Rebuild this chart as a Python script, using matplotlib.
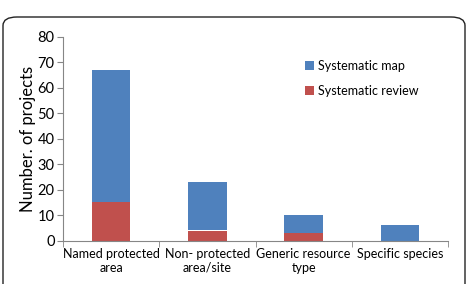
import numpy as np
import matplotlib.pyplot as plt
from matplotlib.patches import FancyBboxPatch

categories = ['Named protected\narea', 'Non- protected\narea/site', 'Generic resource\ntype', 'Specific species']
review = [15, 4, 3, 0]
sys_map = [52, 19, 7, 6]

plt.rcParams['font.family'] = ['Lato', 'DejaVu Sans']

fig = plt.figure(figsize=(4.67, 2.84), dpi=100)
W, H = 467, 284
ax = fig.add_axes([63 / W, 1 - 240.7 / H, (448 - 63) / W, (240.7 - 36.7) / H])

# rounded frame around the chart
frame = FancyBboxPatch((3 / W, -0.2), (462 / W), 1 - 17 / H + 0.2,
                       boxstyle='round,pad=0,rounding_size=0.03',
                       transform=fig.transFigure, facecolor='none',
                       edgecolor='#222222', linewidth=1.0)
fig.patches.append(frame)

x = np.arange(len(categories))
blue = '#4F81BD'
red = '#C0504D'
ax.bar(x, review, width=0.4, color=red, label='Systematic review')
ax.bar(x, sys_map, width=0.4, bottom=review, color=blue, label='Systematic map')

ax.set_xlim(-0.5, 3.5)
ax.set_ylim(0, 80)
ax.set_yticks(np.arange(0, 81, 10))
ax.set_xticks(x)
ax.set_xticklabels(categories, fontsize=9)
ax.set_xticks(np.arange(-0.5, 3.6, 1), minor=True)
ax.tick_params(axis='x', which='major', length=0, pad=5)
ax.tick_params(axis='x', which='minor', length=4, color='#868686')
ax.tick_params(axis='y', length=4, color='#868686', labelsize=10.5, pad=2)
for s in ['top', 'right']:
    ax.spines[s].set_visible(False)
for s in ['left', 'bottom']:
    ax.spines[s].set_color('#868686')
ax.set_ylabel('Number. of projects', fontsize=12, labelpad=1)

h, l = ax.get_legend_handles_labels()
ax.legend(h[::-1], l[::-1], loc='upper left', bbox_to_anchor=(0.6, 0.94),
          frameon=False, fontsize=9, handlelength=0.7, handleheight=0.7,
          handletextpad=0.3, labelspacing=1.0)

fig.savefig('out.png', dpi=100)
